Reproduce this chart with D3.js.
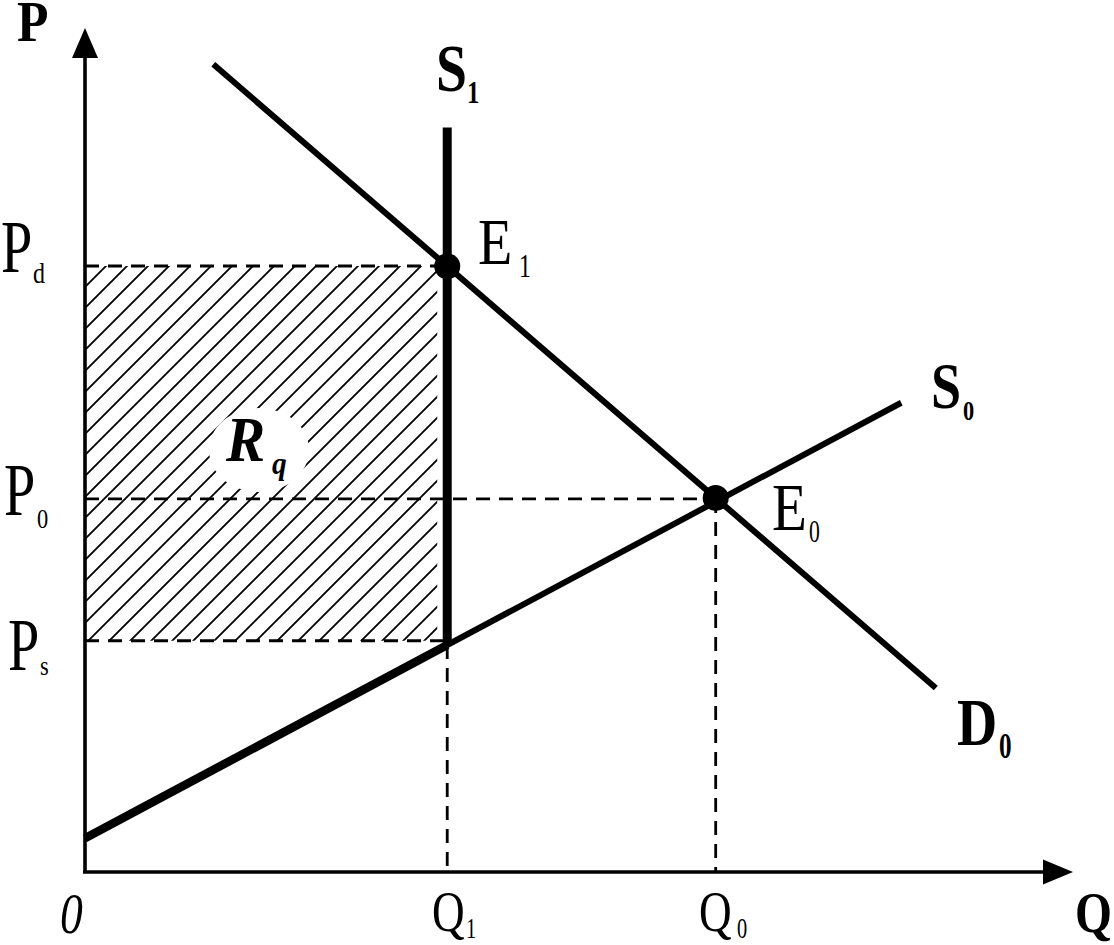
<!DOCTYPE html>
<html>
<head>
<meta charset="utf-8">
<script src="https://cdn.jsdelivr.net/npm/d3@7"></script>
<style>
  html, body { margin: 0; padding: 0; background: #fff; }
  svg { display: block; }
  text { font-family: "Liberation Serif", "Times New Roman", serif; fill: #000; }
</style>
</head>
<body>
<svg id="chart" width="1114" height="945"></svg>
<script>
// ---------------- data (economic units) ----------------
const quantityNames = ["Q", "Q"];
const quantitySubs = ["1", "0"];
const quantityValues = [36.7, 63.9];
const priceNames = ["P", "P", "P"];
const priceSubs = ["d", "0", "s"];
const priceValues = [71.8, 44.2, 27.4];
const demandD0 = [[13.0, 95.7], [86.2, 21.8]];
const supplyS0 = [[0, 4.0], [82.7, 55.6]];
const supplyS1Top = 88.2;
const curveNames = ["S", "S", "D"];
const curveSubs = ["1", "0", "0"];
const pointNames = ["E", "E"];
const pointSubs = ["1", "0"];

// ---------------- layout ----------------
const svg = d3.select("#chart");
const x = d3.scaleLinear().domain([0, 100]).range([85, 1072]);
const y = d3.scaleLinear().domain([0, 100]).range([872, 28]);

const lineOn = (p) => d3.line().x(d => x(d[0])).y(d => y(d[1]))(p);
const s0At = (q) => supplyS0[0][1] + (q - supplyS0[0][0]) * (supplyS0[1][1] - supplyS0[0][1]) / (supplyS0[1][0] - supplyS0[0][0]);
const dAt = (q) => demandD0[0][1] + (q - demandD0[0][0]) * (demandD0[1][1] - demandD0[0][1]) / (demandD0[1][0] - demandD0[0][0]);

const Q1 = quantityValues[0], Q0 = quantityValues[1];
const Pd = priceValues[0], P0 = priceValues[1], Ps = priceValues[2];

// hatch pattern
const defs = svg.append("defs");
const pat = defs.append("pattern").attr("id", "hatch")
  .attr("patternUnits", "userSpaceOnUse").attr("width", 21).attr("height", 21)
  .attr("x", 85).attr("y", y(Pd));
pat.append("path").attr("d", "M-3,3 L3,-3 M0,21 L21,0 M18,24 L24,18")
  .attr("stroke", "#000").attr("stroke-width", 1.8);

// hatched area Rq
svg.append("rect")
  .attr("x", x(0)).attr("y", y(Pd))
  .attr("width", x(Q1) - x(0) - 10).attr("height", y(Ps) - y(Pd))
  .attr("fill", "url(#hatch)");
// clearing behind Rq label
svg.append("ellipse").attr("cx", 259).attr("cy", 450).attr("rx", 50).attr("ry", 42).attr("fill", "#fff");

// dashed guides
const dash = "14,9";
const guides = [
  [[0, Pd], [Q1, Pd]],
  [[0, P0], [Q0, P0]],
  [[0, Ps], [Q1, Ps]],
  [[Q1, s0At(Q1)], [Q1, 0]],
  [[Q0, P0], [Q0, 0]]
];
svg.selectAll("path.guide").data(guides).enter().append("path")
  .attr("class", "guide").attr("d", d => lineOn(d))
  .attr("fill", "none").attr("stroke", "#000").attr("stroke-width", 2.8)
  .attr("stroke-dasharray", dash);

// axes
svg.append("line").attr("x1", x(0)).attr("y1", y(0)).attr("x2", x(0)).attr("y2", 57)
  .attr("stroke", "#000").attr("stroke-width", 3.6);
svg.append("path").attr("d", `M${x(0)},28 L${x(0) - 13},58 L${x(0) + 13},58 Z`).attr("fill", "#000");
svg.append("line").attr("x1", x(0) - 2).attr("y1", y(0)).attr("x2", 1044).attr("y2", y(0))
  .attr("stroke", "#000").attr("stroke-width", 3.6);
svg.append("path").attr("d", `M1073,${y(0)} L1043,${y(0) - 12.5} L1043,${y(0) + 12.5} Z`).attr("fill", "#000");

// demand
svg.append("path").attr("d", lineOn(demandD0)).attr("stroke", "#000").attr("stroke-width", 6).attr("fill", "none");
// supply S0 (thin part + thick part to Q1)
svg.append("path").attr("d", lineOn(supplyS0)).attr("stroke", "#000").attr("stroke-width", 6).attr("fill", "none");
svg.append("path").attr("d", lineOn([supplyS0[0], [Q1, s0At(Q1)]])).attr("stroke", "#000").attr("stroke-width", 8.5).attr("fill", "none");
// supply S1 vertical
svg.append("path").attr("d", lineOn([[Q1, supplyS1Top], [Q1, s0At(Q1)]])).attr("stroke", "#000").attr("stroke-width", 9).attr("fill", "none");

// equilibrium points
const eqPts = [[Q1, dAt(Q1)], [Q0, dAt(Q0)]];
svg.selectAll("circle.eq").data(eqPts).enter().append("circle")
  .attr("class", "eq").attr("cx", d => x(d[0])).attr("cy", d => y(d[1])).attr("r", 13).attr("fill", "#000");

// ---------------- labels ----------------
function lab(px, py, str, size, sx, o = {}) {
  svg.append("text")
    .attr("transform", `translate(${px},${py}) scale(${sx},1)`)
    .attr("font-size", size)
    .attr("font-weight", o.bold ? "bold" : "normal")
    .attr("font-style", o.italic ? "italic" : "normal")
    .text(str);
}

// axis titles and origin
lab(17, 41, "P", 56, 0.92, {bold: true});
lab(1075, 932, "Q", 58, 0.82, {bold: true});
lab(60, 933, "0", 57, 0.8, {italic: true});

// curve labels
lab(436, 91, curveNames[0], 68, 0.82, {bold: true});
lab(467, 103, curveSubs[0], 31, 0.8, {bold: true});
lab(931, 408, curveNames[1], 66, 0.82, {bold: true});
lab(963, 420, curveSubs[1], 28, 0.8, {bold: true});
lab(957, 745, curveNames[2], 68, 0.82, {bold: true});
lab(999, 758, curveSubs[2], 36, 0.7, {bold: true});

// Rq label
lab(226, 461, "R", 64, 0.92, {bold: true, italic: true});
lab(272, 474, "q", 31, 0.95, {bold: true, italic: true});

// equilibrium labels
lab(478, 264, pointNames[0], 66, 0.85);
lab(519, 277, pointSubs[0], 34, 0.7);
lab(772, 530, pointNames[1], 68, 0.84);
lab(809, 542, pointSubs[1], 31, 0.7);

// price labels
const priceMain = [[1, 272], [4, 515], [8, 670]];
const priceSub = [[33, 283, 30], [37, 528, 28], [40, 675, 28]];
priceNames.forEach((n, i) => {
  lab(priceMain[i][0], priceMain[i][1], n, 74, 0.76);
  lab(priceSub[i][0], priceSub[i][1], priceSubs[i], priceSub[i][2], 0.8);
});

// quantity labels
const qMain = [[432, 931], [699, 931]];
const qSub = [[466, 938], [737, 938]];
quantityNames.forEach((n, i) => {
  lab(qMain[i][0], qMain[i][1], n, 58, 0.78);
  lab(qSub[i][0], qSub[i][1], quantitySubs[i], 30, 0.68);
});
</script>
</body>
</html>
